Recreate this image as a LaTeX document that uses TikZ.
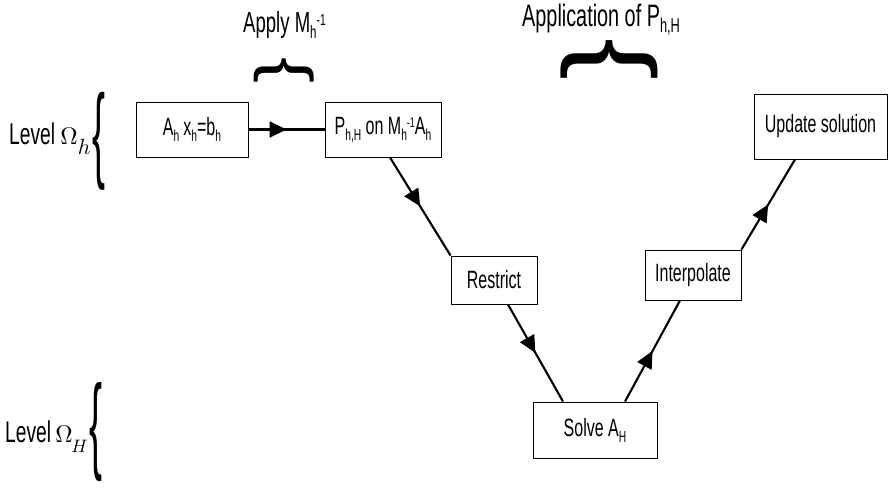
\documentclass[tikz,border=0pt]{standalone}
\usepackage{fontspec}
\setmainfont{Liberation Sans}[FakeStretch=0.64]
\usepackage{graphicx}
\usetikzlibrary{arrows.meta,decorations.markings}
\newcommand\dn[2][16]{\raisebox{-6pt}{\fontsize{#1}{#1}\selectfont #2}}
\newcommand\up[2][14]{\raisebox{7pt}{\fontsize{#1}{#1}\selectfont #2}}
\newcommand\mth[2]{\scalebox{#1}{\fontsize{10}{12}\selectfont$#2$}}
\begin{document}
\begin{tikzpicture}[x=1pt,y=-1pt,
  box/.style={draw, line width=0.9pt, inner sep=0pt, font=\fontsize{25}{28}\selectfont},
  flow/.style={line width=2.1pt, postaction={decorate},
    decoration={markings, mark=at position 0.5 with {\arrow{Triangle[length=17pt,width=16pt]}}}},
  lbl/.style={inner sep=0pt, anchor=base west},
  brc/.style={inner sep=0pt}]
\useasboundingbox (0,0) rectangle (894,489);
% boxes
\node[box, minimum width=112pt, minimum height=55pt] (A) at (192,129.5) {A\dn{h}\,x\dn{h}=b\dn{h}};
\node[box, minimum width=116pt, minimum height=55pt] (P) at (383,129.5) {P\dn{h,H} on M\dn{h}\up{-1}A\dn{h}};
\node[box, minimum width=86pt, minimum height=48pt] (R) at (494,280) {Restrict};
\node[box, minimum width=124pt, minimum height=56pt] (S) at (595,430) {Solve A\dn{H}};
\node[box, minimum width=96pt, minimum height=50pt] (I) at (693,275) {Interpolate};
\node[box, minimum width=133pt, minimum height=65pt] (U) at (820.5,126.5) {Update solution};
% connectors
\draw[flow] (A.east) -- (P.west);
\draw[flow] ([xshift=7pt]P.south) -- (R.north west);
\draw[flow] ([xshift=14pt]R.south) -- ([xshift=-32pt]S.north);
\draw[flow] ([xshift=30pt]S.north) -- ([xshift=-13pt]I.south);
\draw[flow] (I.north east) -- ([xshift=-25.5pt]U.south);
% labels
\node[lbl, font=\fontsize{30}{33}\selectfont] (lh) at (9,145) {Level \mth{2.4}{\Omega}\raisebox{-10pt}{\mth{2.2}{h}}};
\node[lbl, font=\fontsize{30}{33}\selectfont] (lH) at (5,442) {Level\hspace{-1pt} \mth{2.4}{\Omega}\hspace{-1.5pt}\raisebox{-10pt}{\mth{1.8}{H}}};
\node[lbl, font=\fontsize{29}{31}\selectfont] (ta) at (243,33) {Apply M\dn[18]{h}\up[16]{-1}};
\node[lbl, font=\fontsize{31}{34}\selectfont] (tp) at (522,27) {Application of P\dn[20]{h,H}};
% braces
\node[brc] (bh) at (99.5,141) {\resizebox*{13pt}{98pt}{\{}};
\node[brc] (bH) at (96.5,432.5) {\resizebox*{13pt}{99pt}{\{}};
\node[brc, rotate=-90] (ba) at (284,71) {\resizebox*{26pt}{60pt}{\{}};
\node[brc, rotate=-90] (bp) at (609.5,60) {\resizebox*{42pt}{97pt}{\{}};
\end{tikzpicture}
\end{document}
